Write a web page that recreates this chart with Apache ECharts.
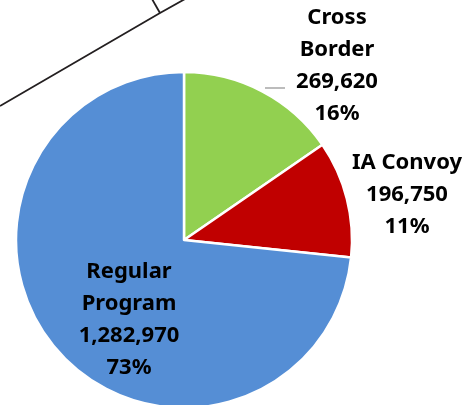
<!DOCTYPE html>
<html><head><meta charset="utf-8">
<script src="https://cdn.jsdelivr.net/npm/echarts@6/dist/echarts.min.js"></script>
<style>html,body{margin:0;padding:0;background:#fff}#c{width:471px;height:405px}</style>
</head><body><div id="c"></div>
<script>
const categories = ['Cross Border', 'IA Convoy', 'Regular Program'];
const labelNames = ['Cross\nBorder', 'IA Convoy', 'Regular\nProgram'];
const values = [269620, 196750, 1282970];
const percentLabels = ['16%', '11%', '73%'];
const colors = ['#92D050', '#C00000', '#558ED5'];

const labelPos = [[337, 66], [407, 195], [129, 320]];

const chart = echarts.init(document.getElementById('c'), null, {renderer: 'canvas'});
chart.setOption({
  backgroundColor: '#ffffff',
  animation: false,
  graphic: [
    {type: 'polyline', shape: {points: [[0, 106], [160, 13], [185, -1]]}, style: {stroke: '#231F20', lineWidth: 1.8, fill: null}},
    {type: 'line', shape: {x1: 160, y1: 13, x2: 152, y2: -1}, style: {stroke: '#231F20', lineWidth: 1.8}}
  ],
  series: [{
    type: 'pie',
    center: [184, 240],
    radius: 168,
    startAngle: 90,
    clockwise: true,
    avoidLabelOverlap: false,
    itemStyle: {borderColor: '#ffffff', borderWidth: 2.5},
    label: {
      show: true,
      position: 'outside',
      fontFamily: 'Noto Sans',
      fontWeight: 'bold',
      fontSize: 22,
      lineHeight: 32,
      color: '#000000',
      align: 'center',
      formatter: p => labelNames[p.dataIndex] + '\n' + values[p.dataIndex].toLocaleString('en-US') + '\n' + percentLabels[p.dataIndex]
    },
    labelLine: {show: false},
    labelLayout: function (params) {
      const i = params.dataIndex;
      const r = {x: labelPos[i][0], y: labelPos[i][1], align: 'center', verticalAlign: 'middle'};
      if (i === 0) r.labelLinePoints = [[265, 88], [275, 88], [285, 88]];
      return r;
    },
    data: categories.map((c, i) => ({
      name: c,
      value: values[i],
      itemStyle: {color: colors[i]},
      labelLine: i === 0 ? {show: true, lineStyle: {color: '#A6A6A6', width: 1.5}} : {show: false}
    }))
  }]
});
</script></body></html>
